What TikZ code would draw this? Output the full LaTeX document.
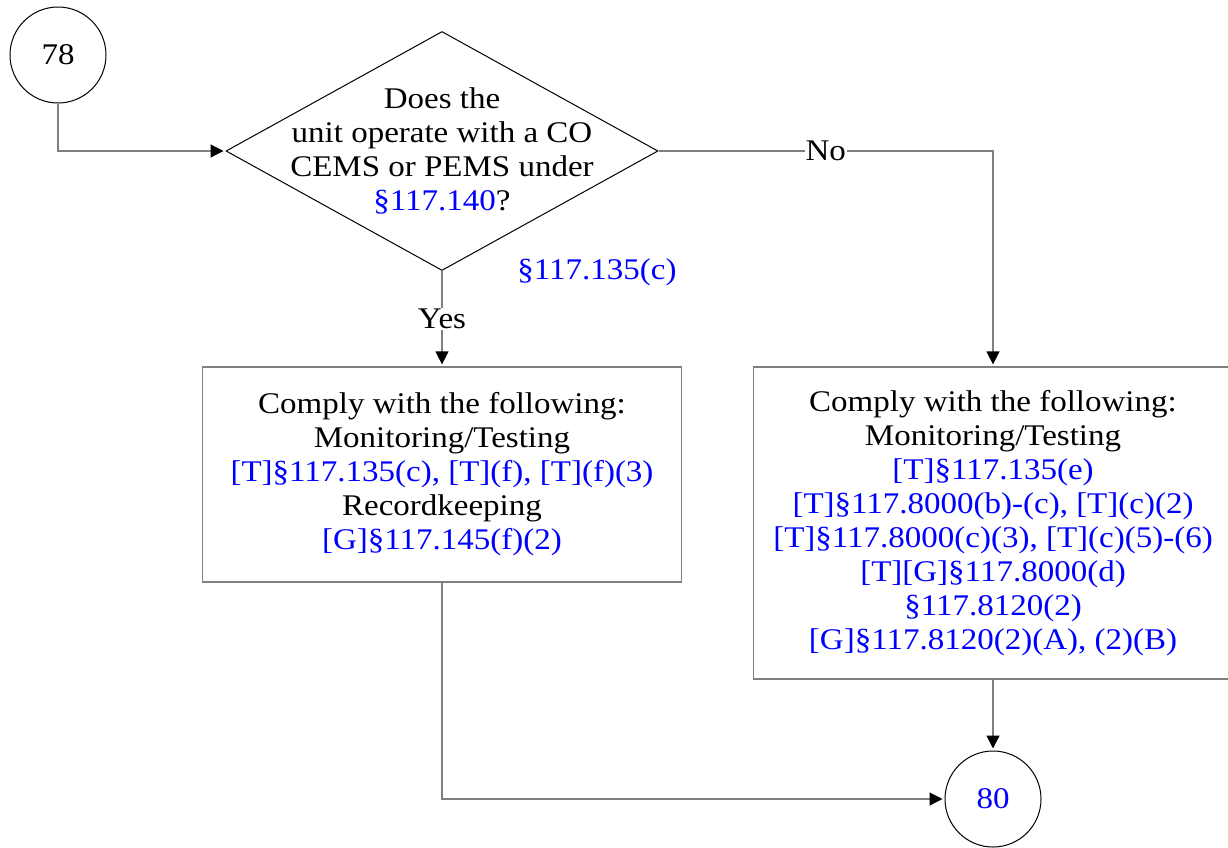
\documentclass[tikz,border=0pt]{standalone}
\usepackage{fontspec}
\setmainfont{Liberation Serif}[FakeStretch=1.1]
\usepackage{xcolor}
\usetikzlibrary{arrows.meta,shapes.geometric}

\begin{document}
\begin{tikzpicture}[
  x=1pt, y=-1pt,
  font=\fontsize{30}{34}\selectfont,
  conn/.style    ={draw=black, line width=1pt, circle, minimum size=96pt, inner sep=0pt},
  decision/.style={draw=black, line width=1pt, diamond, minimum width=432pt,
                   minimum height=239pt, inner sep=0pt},
  box/.style     ={draw=gray, line width=1.2pt, align=center, minimum width=479pt,
                   inner sep=0pt},
  ref/.style     ={text=blue},
  lbl/.style     ={fill=white, inner sep=1pt},
  ar/.style      ={draw=gray, line width=1.2pt,
                   -{Triangle[length=13pt,width=13pt,color=black]}, shorten >=2pt},
  ln/.style      ={draw=gray, line width=1.2pt}
]
\clip (0,0) rectangle (1228,847);

\node[conn] (c78) at (58,55) {78};
\node[decision, label={[align=center]center:{Does the\\unit operate with a CO\\
  CEMS or PEMS under\\\textcolor{blue}{§117.140}?}}] (dec) at (442,151) {};
\node[ref] (cite) at (597,272) {§117.135(c)};

\node[box, minimum height=215pt] (lbox) at (442,474.5)
  {Comply with the following:\\Monitoring/Testing\\
   \textcolor{blue}{[T]§117.135(c), [T](f), [T](f)(3)}\\Recordkeeping\\
   \textcolor{blue}{[G]§117.145(f)(2)}};
\node[box, minimum height=312pt] (rbox) at (993,523)
  {Comply with the following:\\Monitoring/Testing\\
   \textcolor{blue}{[T]§117.135(e)}\\
   \textcolor{blue}{[T]§117.8000(b)-(c), [T](c)(2)}\\
   \textcolor{blue}{[T]§117.8000(c)(3), [T](c)(5)-(6)}\\
   \textcolor{blue}{[T][G]§117.8000(d)}\\
   \textcolor{blue}{§117.8120(2)}\\
   \textcolor{blue}{[G]§117.8120(2)(A), (2)(B)}};

\node[conn, ref] (c80) at (993,799) {80};

\draw[ar] (c78.south) |- (dec.west);
\draw[ar] (dec.east) -| (rbox.north) node[pos=0.25, lbl] {No};
\draw[ar] (dec.south) -- (lbox.north) node[midway, lbl] {Yes};
\draw[ar] (rbox.south) -- (c80.north);
\draw[ar] (lbox.south) |- (c80.west);

\end{tikzpicture}
\end{document}
